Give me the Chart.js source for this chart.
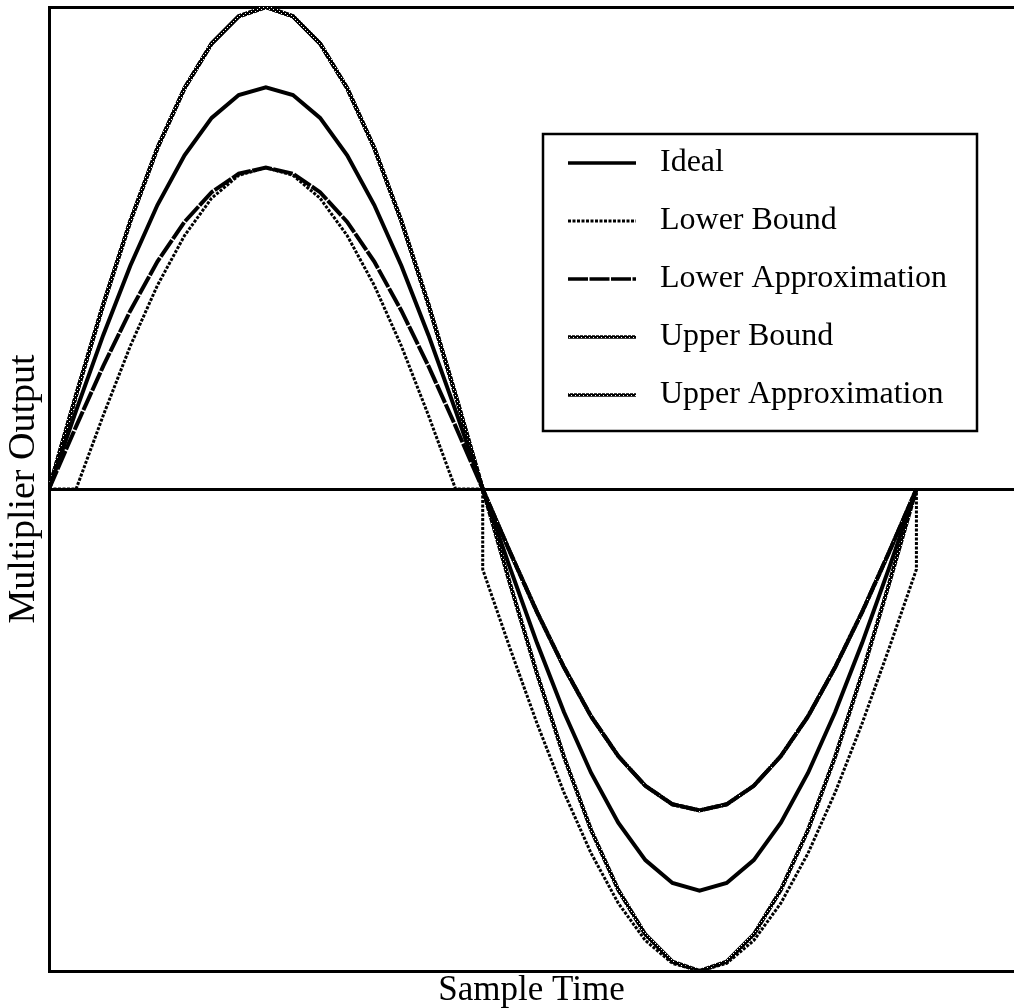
<!DOCTYPE html>
<html>
<head>
<meta charset="utf-8">
<script src="https://cdn.jsdelivr.net/npm/chart.js@4"></script>
<style>
  html, body { margin: 0; padding: 0; background: #fff; }
  #wrap { width: 1014px; height: 1008px; }
</style>
</head>
<body>
<div id="wrap"><canvas id="c" width="1014" height="1008"></canvas></div>
<script>
// Sample positions (one full period = 32 samples)
const sampleIndex = [0,1,2,3,4,5,6,7,8,9,10,11,12,13,14,15,16,17,18,19,20,21,22,23,24,25,26,27,28,29,30,31,32];

const ideal = [0, 0.195, 0.383, 0.556, 0.707, 0.831, 0.924, 0.981, 1, 0.981, 0.924, 0.831, 0.707, 0.556, 0.383, 0.195, 0,
  -0.195, -0.383, -0.556, -0.707, -0.831, -0.924, -0.981, -1, -0.981, -0.924, -0.831, -0.707, -0.556, -0.383, -0.195, 0];

const lowerApprox = [0, 0.156, 0.306, 0.444, 0.566, 0.665, 0.739, 0.785, 0.8, 0.785, 0.739, 0.665, 0.566, 0.444, 0.306, 0.156, 0,
  -0.156, -0.306, -0.444, -0.566, -0.665, -0.739, -0.785, -0.8, -0.785, -0.739, -0.665, -0.566, -0.444, -0.306, -0.156, 0];

const upperApprox = [0, 0.234, 0.459, 0.667, 0.849, 0.998, 1.109, 1.177, 1.2, 1.177, 1.109, 0.998, 0.849, 0.667, 0.459, 0.234, 0,
  -0.234, -0.459, -0.667, -0.849, -0.998, -1.109, -1.177, -1.2, -1.177, -1.109, -0.998, -0.849, -0.667, -0.459, -0.234, 0];

const upperBound = [0, 0.234, 0.459, 0.667, 0.849, 0.998, 1.109, 1.177, 1.2, 1.177, 1.109, 0.998, 0.849, 0.667, 0.459, 0.234, 0,
  -0.156, -0.306, -0.444, -0.566, -0.665, -0.739, -0.785, -0.8, -0.785, -0.739, -0.665, -0.566, -0.444, -0.306, -0.156, 0];

// The lower bound steps straight down at the zero crossings, so it carries its own x list
const lowerBoundX = [0,1,2,3,4,5,6,7,8,9,10,11,12,13,14,15,16,16,17,18,19,20,21,22,23,24,25,26,27,28,29,30,31,32,32];
const lowerBound = [0, 0, 0.183, 0.356, 0.507, 0.631, 0.724, 0.781, 0.8, 0.781, 0.724, 0.631, 0.507, 0.356, 0.183, 0, 0,
  -0.2, -0.395, -0.583, -0.756, -0.907, -1.031, -1.124, -1.181, -1.2, -1.181, -1.124, -1.031, -0.907, -0.756, -0.583, -0.395, -0.2, 0];

const seriesNames = ['Ideal', 'Lower Bound', 'Lower Approximation', 'Upper Bound', 'Upper Approximation'];
const axisTitles = { x: 'Sample Time', y: 'Multiplier Output' };

const SERIF = '"Liberation Serif", "Times New Roman", serif';

// speckled ink texture used for the bound / upper curves
function speckle() {
  const c = document.createElement('canvas');
  c.width = 4; c.height = 4;
  const g = c.getContext('2d');
  g.fillStyle = '#000';
  g.fillRect(0, 0, 4, 4);
  g.fillStyle = '#fff';
  g.fillRect(1, 1, 1, 1);
  g.fillRect(3, 3, 1, 1);
  return g.createPattern(c, 'repeat');
}
const ink = speckle();

function pts(xs, ys) { return xs.map((x, i) => ({ x: x, y: ys[i] })); }

const datasets = [
  { label: seriesNames[0], data: pts(sampleIndex, ideal), borderColor: '#000', borderWidth: 4, borderDash: [] },
  { label: seriesNames[1], data: pts(lowerBoundX, lowerBound), borderColor: '#000', borderWidth: 3, borderDash: [3, 1.5] },
  { label: seriesNames[2], data: pts(sampleIndex, lowerApprox), borderColor: '#000', borderWidth: 4, borderDash: [20, 1.5] },
  { label: seriesNames[3], data: pts(sampleIndex, upperBound), borderColor: ink, borderWidth: 4, borderDash: [] },
  { label: seriesNames[4], data: pts(sampleIndex, upperApprox), borderColor: ink, borderWidth: 4, borderDash: [] }
].map(d => Object.assign(d, { pointRadius: 0, tension: 0, fill: false }));

// Boxed legend inside the plot area
const boxedLegend = {
  id: 'boxedLegend',
  afterDraw(chart) {
    const ctx = chart.ctx;
    const box = { l: 543, t: 134, r: 977, b: 431 };
    ctx.save();
    ctx.fillStyle = '#fff';
    ctx.fillRect(box.l, box.t, box.r - box.l, box.b - box.t);
    ctx.strokeStyle = '#000';
    ctx.lineWidth = 2.5;
    ctx.strokeRect(box.l, box.t, box.r - box.l, box.b - box.t);
    ctx.font = '32px ' + SERIF;
    ctx.textBaseline = 'middle';
    ctx.fillStyle = '#000';
    chart.data.datasets.forEach((ds, i) => {
      const y = 163 + i * 58;
      ctx.save();
      ctx.strokeStyle = ds.borderColor;
      ctx.lineWidth = Math.min(ds.borderWidth, 3.5);
      ctx.setLineDash(ds.borderDash || []);
      ctx.beginPath();
      ctx.moveTo(568, y);
      ctx.lineTo(636, y);
      ctx.stroke();
      ctx.restore();
      ctx.fillText(ds.label, 660, y);
    });
    ctx.restore();
  }
};

new Chart(document.getElementById('c'), {
  type: 'line',
  data: { datasets: datasets },
  options: {
    responsive: false,
    animation: false,
    devicePixelRatio: 1,
    layout: { padding: { top: 7, right: 0, left: 0, bottom: 0 } },
    plugins: { legend: { display: false }, tooltip: { enabled: false } },
    scales: {
      x: {
        type: 'linear',
        min: 0,
        max: 35.6,
        ticks: { display: false },
        grid: { display: false, drawTicks: false },
        border: { display: true, color: '#000', width: 3 },
        title: {
          display: true,
          text: axisTitles.x,
          color: '#000',
          font: { family: SERIF, size: 35, lineHeight: 1 },
          padding: { top: 2, bottom: 0 }
        }
      },
      y: {
        type: 'linear',
        min: -1.2,
        max: 1.2,
        afterBuildTicks(scale) {
          scale.ticks = [{ value: -1.2 }, { value: 0 }, { value: 1.2 }];
        },
        ticks: { display: false },
        grid: {
          drawTicks: false,
          lineWidth: 3,
          color: (c) => (c.tick && c.tick.value === -1.2) ? 'rgba(0,0,0,0)' : '#000'
        },
        border: { display: true, color: '#000', width: 3 },
        title: {
          display: true,
          text: axisTitles.y,
          color: '#000',
          font: { family: SERIF, size: 38, lineHeight: 1 },
          padding: { top: 5, bottom: 6 }
        }
      }
    }
  },
  plugins: [boxedLegend]
});
</script>
</body>
</html>
